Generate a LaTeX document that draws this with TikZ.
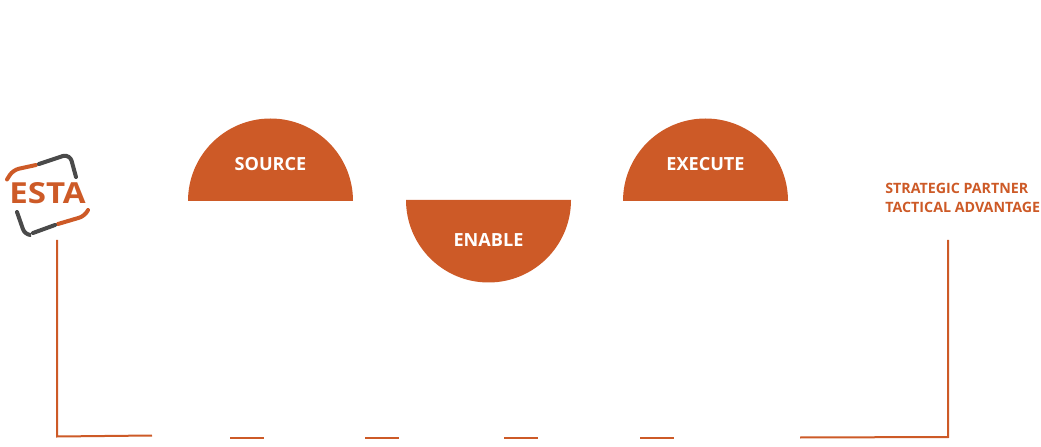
\documentclass[tikz,border=0pt]{standalone}
\usepackage{fontspec}
\setmainfont{Open Sans}
\definecolor{rust}{HTML}{CD5A27}
\definecolor{slate}{HTML}{4A4A4A}

\begin{document}
\begin{tikzpicture}[
  dome/.style={fill=rust},
  domelabel/.style={text=white,font=\bfseries\fontsize{10.3pt}{12pt}\selectfont},
  sidelabel/.style={text=rust,font=\bfseries\fontsize{8.1pt}{9.5pt}\selectfont,anchor=west,inner sep=0pt},
  rail/.style={draw=rust,line width=0.04cm},
  mark orange/.style={draw=rust,line width=0.08cm,line cap=round,rounded corners=0.12cm},
  mark dark/.style={draw=slate,line width=0.08cm,line cap=round,rounded corners=0.12cm}]
\useasboundingbox (0cm, 0cm) rectangle (20.82cm, 8.92cm);
%logo
\draw[mark orange] (0.14cm, 5.33cm) -- (0.26cm, 5.52cm) -- (0.72cm, 5.62cm);
\draw[mark dark] (0.78cm, 5.64cm) -- (1.26cm, 5.80cm);
\draw[mark dark] (1.26cm, 5.80cm) -- (1.40cm, 5.82cm) -- (1.52cm, 5.38cm);
\draw[mark orange] (1.76cm, 4.72cm) -- (1.70cm, 4.60cm) -- (1.16cm, 4.44cm);
\draw[mark dark] (1.10cm, 4.42cm) -- (0.66cm, 4.26cm);
\draw[mark dark] (0.34cm, 4.68cm) -- (0.50cm, 4.22cm) -- (0.60cm, 4.22cm);
\node[text=rust,font=\bfseries\fontsize{16.5pt}{17pt}\selectfont,inner sep=0pt,xscale=1.14] (esta) at (0.95cm, 5.05cm) {ESTA};
%domes
\fill[dome] (3.76cm, 4.90cm) arc (180:0:1.65cm) -- cycle;
\fill[dome] (8.12cm, 4.92cm) arc (180:360:1.65cm) -- cycle;
\fill[dome] (12.46cm, 4.90cm) arc (180:0:1.65cm) -- cycle;
\node[domelabel] (source) at (5.41cm, 5.64cm) {SOURCE};
\node[domelabel] (enable) at (9.77cm, 4.12cm) {ENABLE};
\node[domelabel] (execute) at (14.11cm, 5.64cm) {EXECUTE};
%tag lines
\node[sidelabel] (partner) at (17.70cm, 5.16cm) {STRATEGIC PARTNER};
\node[sidelabel] (tactical) at (17.70cm, 4.78cm) {TACTICAL ADVANTAGE};
%left rail
\coordinate (leftTop) at (1.14cm, 4.12cm);
\coordinate (leftCorner) at (1.14cm, 0.19cm);
\coordinate (leftEnd) at (3.04cm, 0.21cm);
\draw[rail] (leftTop) -- (leftCorner) -- (leftEnd);
%right rail
\coordinate (rightTop) at (18.96cm, 4.12cm);
\coordinate (rightCorner) at (18.96cm, 0.18cm);
\coordinate (rightEnd) at (16.00cm, 0.17cm);
\draw[rail] (rightTop) -- (rightCorner) -- (rightEnd);
%dashes
\coordinate (dashAa) at (4.60cm, 0.16cm);
\coordinate (dashAb) at (5.28cm, 0.16cm);
\draw[rail] (dashAa) -- (dashAb);
\coordinate (dashBa) at (7.30cm, 0.16cm);
\coordinate (dashBb) at (7.98cm, 0.16cm);
\draw[rail] (dashBa) -- (dashBb);
\coordinate (dashCa) at (10.08cm, 0.16cm);
\coordinate (dashCb) at (10.76cm, 0.16cm);
\draw[rail] (dashCa) -- (dashCb);
\coordinate (dashDa) at (12.80cm, 0.16cm);
\coordinate (dashDb) at (13.48cm, 0.16cm);
\draw[rail] (dashDa) -- (dashDb);
\end{tikzpicture}
\end{document}
